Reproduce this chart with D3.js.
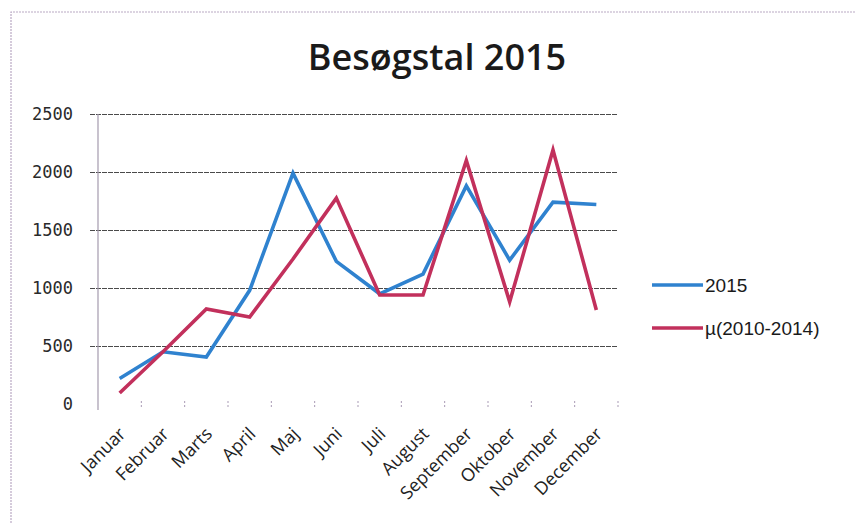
<!DOCTYPE html>
<html>
<head>
<meta charset="utf-8">
<script src="https://cdn.jsdelivr.net/npm/d3@7"></script>
<style>
  body { margin: 0; background: #fff; }
  svg { display: block; }
</style>
</head>
<body>
<div id="chart"></div>
<script>
// data
var months = ['Januar', 'Februar', 'Marts', 'April', 'Maj', 'Juni', 'Juli', 'August', 'September', 'Oktober', 'November', 'December']
var visits2015 = [220, 450, 405, 980, 1990, 1230, 950, 1120, 1880, 1240, 1740, 1720]
var avg2010_2014 = [95, 450, 820, 750, 1250, 1775, 940, 940, 2100, 880, 2190, 810]
var yTicks = [0, 500, 1000, 1500, 2000, 2500]
var seriesNames = ['2015', 'µ(2010-2014)']
var seriesColors = ['#2f82cf', '#c2305c']

var width = 856, height = 523
var margin = { top: 114, right: 238, bottom: 119, left: 98 }

var svg = d3.select('#chart')
  .append('svg')
  .attr('width', width)
  .attr('height', height)

// outer frame (only top and left visible)
svg.append('path')
  .attr('d', `M11,${height} L11,12 L${width},12`)
  .attr('fill', 'none')
  .attr('stroke', '#b9a9c4')
  .attr('stroke-width', 1.2)
  .attr('stroke-dasharray', '2,1')

var xScale = d3.scaleBand()
  .domain(months)
  .range([margin.left, width - margin.right])

var yScale = d3.scaleLinear()
  .domain([0, 2500])
  .range([height - margin.bottom, margin.top])

// grid
var yGrid = d3.axisLeft(yScale)
  .tickValues(yTicks.filter(d => d > 0))
  .tickSize(-(width - margin.right - margin.left) - 8)
  .tickFormat('')

svg.append('g')
  .attr('class', 'grid')
  .attr('transform', `translate(${margin.left - 8},0)`)
  .call(yGrid)
  .call(g => g.select('.domain').remove())
  .selectAll('line')
  .attr('stroke', '#4a4a4a')
  .attr('stroke-width', 1.1)
  .attr('stroke-dasharray', '5,1')

// left axis line
svg.append('line')
  .attr('x1', margin.left).attr('x2', margin.left)
  .attr('y1', yScale(2500)).attr('y2', yScale(0) + 6)
  .attr('stroke', '#a49aae')
  .attr('stroke-width', 1.2)

// y labels
svg.selectAll('text.ylab')
  .data(yTicks)
  .enter()
  .append('text')
  .attr('class', 'ylab')
  .attr('x', 73)
  .attr('y', d => yScale(d))
  .attr('dy', '0.35em')
  .attr('text-anchor', 'end')
  .attr('font-family', 'DejaVu Sans Mono')
  .attr('font-size', '17px')
  .attr('fill', '#2a2a2a')
  .text(d => d)

// category tick marks along the bottom
var tickXs = months.map(m => xScale(m)).concat([xScale(months[months.length - 1]) + xScale.bandwidth()])
svg.selectAll('line.xtick')
  .data(tickXs.slice(1))
  .enter()
  .append('line')
  .attr('class', 'xtick')
  .attr('x1', d => d).attr('x2', d => d)
  .attr('y1', yScale(0) - 3).attr('y2', yScale(0) + 4)
  .attr('stroke', '#a99bb5')
  .attr('stroke-width', 1)
  .attr('stroke-dasharray', '2,2')

// x labels
svg.selectAll('text.xlab')
  .data(months)
  .enter()
  .append('text')
  .attr('class', 'xlab')
  .attr('text-anchor', 'end')
  .attr('transform', d => `translate(${xScale(d) + xScale.bandwidth() / 2 + 7},${yScale(0) + 31}) rotate(-45)`)
  .attr('font-family', 'Open Sans')
  .attr('font-size', '18px')
  .attr('fill', '#222')
  .text(d => d)

// lines
var line = d3.line()
  .x((d, i) => xScale(months[i]) + xScale.bandwidth() / 2)
  .y(d => yScale(d))

svg.append('path')
  .datum(visits2015)
  .attr('d', line)
  .attr('fill', 'none')
  .attr('stroke', seriesColors[0])
  .attr('stroke-width', 3.6)
  .attr('stroke-linejoin', 'miter')

svg.append('path')
  .datum(avg2010_2014)
  .attr('d', line)
  .attr('fill', 'none')
  .attr('stroke', seriesColors[1])
  .attr('stroke-width', 3.6)
  .attr('stroke-linejoin', 'miter')

// title
svg.append('text')
  .attr('x', 437)
  .attr('y', 70)
  .attr('text-anchor', 'middle')
  .attr('font-family', 'Open Sans')
  .attr('font-weight', 600)
  .attr('font-size', '36px')
  .attr('fill', '#1a1a1a')
  .text('Besøgstal 2015')

// legend
var legend = svg.selectAll('g.legend')
  .data(seriesNames)
  .enter()
  .append('g')
  .attr('class', 'legend')
  .attr('transform', (d, i) => `translate(652,${285 + i * 43})`)

legend.append('line')
  .attr('x1', 0).attr('x2', 51)
  .attr('y1', 0).attr('y2', 0)
  .attr('stroke', (d, i) => seriesColors[i])
  .attr('stroke-width', 3.6)

legend.append('text')
  .attr('x', 53)
  .attr('dy', '0.35em')
  .attr('font-family', 'Liberation Sans')
  .attr('font-size', '19px')
  .attr('fill', '#1a1a1a')
  .text(d => d)
</script>
</body>
</html>
